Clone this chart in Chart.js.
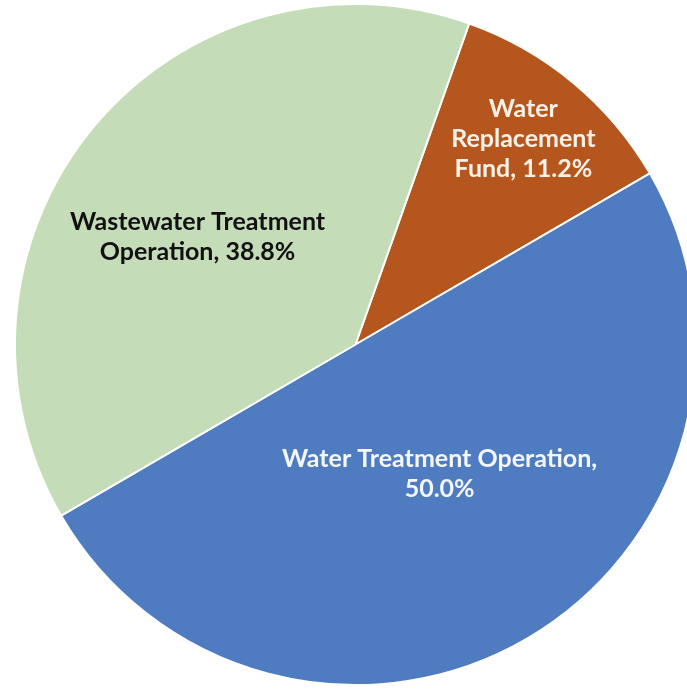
<!DOCTYPE html>
<html>
<head>
<meta charset="utf-8">
<script src="https://cdn.jsdelivr.net/npm/chart.js@4/dist/chart.umd.min.js"></script>
<style>
  html, body { margin: 0; padding: 0; background: #ffffff; overflow: hidden; }
  #wrap { position: absolute; left: 0; top: 0; width: 720px; height: 692px; }
</style>
</head>
<body>
<div id="wrap"><canvas id="c" width="720" height="692"></canvas></div>
<script>
// ---- data ----
const categories = ["Water Replacement Fund", "Water Treatment Operation", "Wastewater Treatment Operation"];
const shares = [11.2, 50.0, 38.8];
const labelLines = [
  ["Water", "Replacement", "Fund, 11.2%"],
  ["Water Treatment Operation,", "50.0%"],
  ["Wastewater Treatment", "Operation, 38.8%"]
];

// ---- styling ----
const sliceColors = ["#b5561f", "#4f7bc0", "#c4dcb8"];
const labelColors = ["#fbf1e6", "#f4f7fc", "#111111"];
// label centre offsets as fractions of the pie radius (x, y from pie centre)
const labelOffsets = [[0.493, -0.605], [0.247, 0.379], [-0.464, -0.317]];

const labelPlugin = {
  id: 'sliceLabels',
  afterDatasetsDraw(chart) {
    const ctx = chart.ctx;
    const meta = chart.getDatasetMeta(0);
    ctx.save();
    ctx.font = 'bold 25px Lato, "Open Sans", sans-serif';
    ctx.textAlign = 'center';
    ctx.textBaseline = 'middle';
    const lh = 30;
    meta.data.forEach((arc, i) => {
      const p = arc.getProps(['x', 'y', 'outerRadius'], true);
      const cx = p.x + labelOffsets[i][0] * p.outerRadius;
      const cy = p.y + labelOffsets[i][1] * p.outerRadius;
      const lines = labelLines[i];
      ctx.fillStyle = labelColors[i];
      lines.forEach((t, k) => {
        ctx.fillText(t, cx, cy + (k - (lines.length - 1) / 2) * lh);
      });
    });
    ctx.restore();
  }
};

new Chart(document.getElementById('c'), {
  type: 'pie',
  data: {
    labels: categories,
    datasets: [{
      data: shares,
      backgroundColor: sliceColors,
      borderColor: '#ffffff',
      borderWidth: 2
    }]
  },
  options: {
    responsive: false,
    animation: false,
    rotation: 19.5,
    layout: { padding: { left: 14, top: 3, right: 23, bottom: 6 } },
    plugins: {
      legend: { display: false },
      tooltip: { enabled: false }
    }
  },
  plugins: [labelPlugin]
});
</script>
</body>
</html>
